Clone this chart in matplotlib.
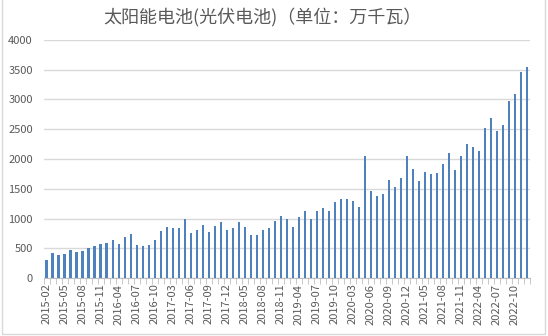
import matplotlib.pyplot as plt
from matplotlib.patches import Rectangle
import numpy as np

plt.rcParams['font.family'] = ['Noto Sans CJK SC', 'DejaVu Sans']

# month labels: 2015-02..2015-12, then Mar-Dec for 2016..2022 (Jan/Feb missing)
months = ['2015-%02d' % m for m in range(2, 13)]
for y in range(2016, 2023):
    months += ['%d-%02d' % (y, m) for m in range(3, 13)]

# output, 10k kW
values = [
    309, 427, 393, 410, 478, 444, 461, 511, 545, 579, 596,
    646, 579, 697, 747, 562, 545, 562, 646, 798, 849,
    832, 832, 984, 764, 815, 899, 781, 866, 933, 815,
    832, 933, 849, 731, 731, 815, 832, 950, 1034, 1000,
    849, 1017, 1118, 1000, 1118, 1169, 1118, 1270, 1321, 1321,
    1287, 1186, 2046, 1456, 1371, 1405, 1641, 1523, 1675, 2046,
    1827, 1624, 1776, 1743, 1760, 1911, 2102, 1817, 2052, 2253,
    2202, 2135, 2521, 2689, 2471, 2571, 2974, 3091, 3460, 3544,
]

title = '太阳能电池(光伏电池)（单位：万千瓦）'

fig = plt.figure(figsize=(5.48, 3.36), dpi=100)
fig.patches.append(Rectangle((0.004, 0.006), 0.99, 1.2, transform=fig.transFigure,
                             fill=False, edgecolor='#d9d9d9', linewidth=1))
ax = fig.add_axes([0.080, 0.1726, 0.887, 0.7084])

x = np.arange(len(months))
ax.bar(x, values, width=0.45, color='#4f81bd', zorder=3)

ax.set_xlim(-0.5, len(months) - 0.5)
ax.set_ylim(0, 4000)
ax.set_yticks(range(0, 4001, 500))
ax.grid(axis='y', color='#d9d9d9', linewidth=1, zorder=0)

ax.set_xticks(x[::3])
ax.set_xticklabels(months[::3], rotation=90, fontsize=8, color='#595959')
ax.set_xticks(np.arange(-0.5, len(months)), minor=True)
ax.tick_params(axis='x', which='major', length=0, pad=4)
ax.tick_params(axis='x', which='minor', length=4, color='#bfbfbf')
ax.tick_params(axis='y', length=0, pad=8, labelsize=8, labelcolor='#595959')

for s in ['top', 'right', 'left']:
    ax.spines[s].set_visible(False)
ax.spines['bottom'].set_color('#bfbfbf')

fig.text(0.479, 0.948, title, ha='center', va='center', fontsize=13,
         fontweight='light', color='#595959')

fig.savefig('out.png', dpi=100)
